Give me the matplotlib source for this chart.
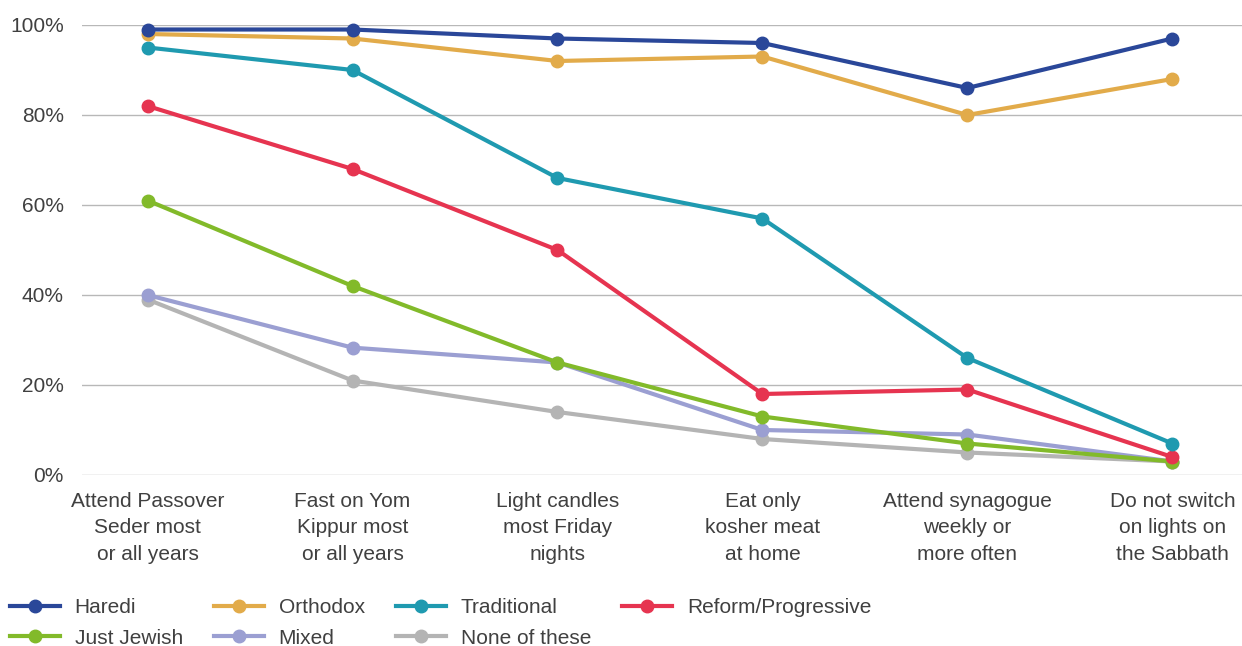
import numpy as np
import matplotlib
matplotlib.use("Agg")
import matplotlib.pyplot as plt

plt.rcParams['font.family'] = ['Liberation Sans', 'DejaVu Sans']

categories = [
    "Attend Passover\nSeder most\nor all years",
    "Fast on Yom\nKippur most\nor all years",
    "Light candles\nmost Friday\nnights",
    "Eat only\nkosher meat\nat home",
    "Attend synagogue\nweekly or\nmore often",
    "Do not switch\non lights on\nthe Sabbath",
]

haredi = [99, 99, 97, 96, 86, 97]
orthodox = [98, 97, 92, 93, 80, 88]
traditional = [95, 90, 66, 57, 26, 7]
reform = [82, 68, 50, 18, 19, 4]
just_jewish = [61, 42, 25, 13, 7, 3]
mixed = [40, 28.3, 25, 10, 9, 3]
none_of_these = [39, 21, 14, 8, 5, 3]

series = [
    ("Haredi", haredi, "#2a4799"),
    ("Orthodox", orthodox, "#e2ab4a"),
    ("Traditional", traditional, "#1f9ab0"),
    ("Reform/Progressive", reform, "#e63450"),
    ("Just Jewish", just_jewish, "#82ba2a"),
    ("Mixed", mixed, "#9b9fd2"),
    ("None of these", none_of_these, "#b4b4b4"),
]

W, H = 1242, 646
fig = plt.figure(figsize=(W / 100, H / 100), dpi=100)
ax = fig.add_axes([82 / W, 1 - 475 / H, 1 - 82 / W, 450 / H])

x = np.arange(len(categories))
lines = {}
# bottom series first so Haredi ends up drawn on top
for name, vals, col in reversed(series):
    lines[name], = ax.plot(x, vals, color=col, lw=3, marker='o', ms=9,
                           label=name, clip_on=False)

ax.set_xlim(-0.32, 5.34)
ax.set_ylim(0, 100)
ax.set_yticks([0, 20, 40, 60, 80, 100])
ax.set_yticklabels([f"{v}%" for v in [0, 20, 40, 60, 80, 100]])
ax.set_xticks(x)
ax.set_xticklabels(categories, linespacing=1.5)
ax.grid(axis='y', color='#b8b8b8', lw=1)
ax.set_axisbelow(True)
for s in ax.spines.values():
    s.set_visible(False)
ax.tick_params(length=0, labelsize=15, colors='#404040')
ax.tick_params(axis='y', pad=13)
ax.tick_params(axis='x', pad=12)

# legend fills column by column, so order names to read row-wise
order = ["Haredi", "Just Jewish", "Orthodox", "Mixed",
         "Traditional", "None of these", "Reform/Progressive"]
fig.legend([lines[n] for n in order], order, loc='upper left',
           bbox_to_anchor=(0.003, 1 - 592 / H),
           ncol=4, frameon=False, fontsize=15, labelcolor='#404040',
           handlelength=2.4, handletextpad=0.7, columnspacing=1.5,
           borderaxespad=0, borderpad=0.3, labelspacing=0.55)

fig.savefig("out.png", dpi=100)
